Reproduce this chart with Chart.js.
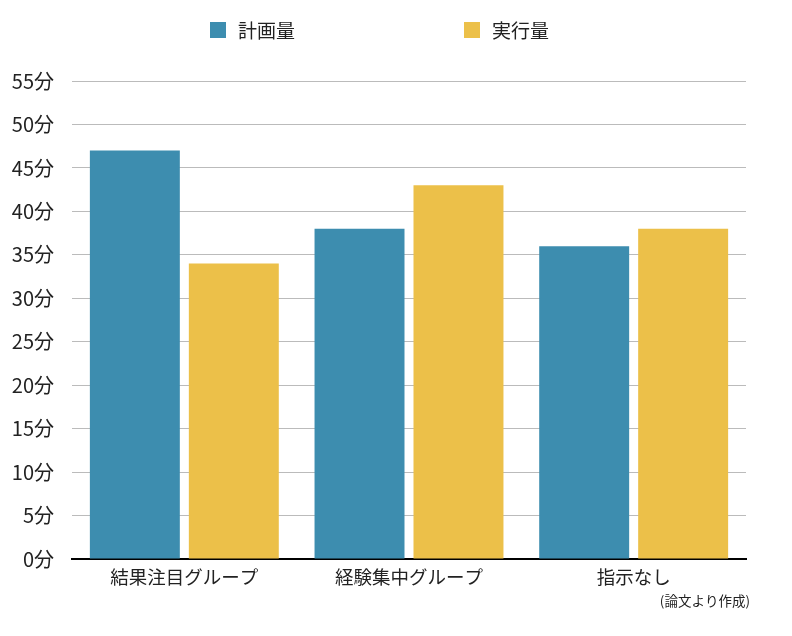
<!DOCTYPE html>
<html><head><meta charset="utf-8">
<script src="https://cdn.jsdelivr.net/npm/chart.js@4"></script>
<style>html,body{margin:0;padding:0;background:#fff}#w{width:792px;height:636px}</style>
</head><body><div id="w"><canvas id="c"></canvas></div>
<script>
const categories = ['結果注目グループ', '経験集中グループ', '指示なし'];
const planned = [47, 38, 36];
const actual = [34, 43, 38];
const seriesNames = ['計画量', '実行量'];
const yTicks = [0,5,10,15,20,25,30,35,40,45,50,55];
const note = '(論文より作成)';
const FONT = '"Noto Sans CJK JP", "Noto Sans", sans-serif';
const BLUE = '#3d8daf', YELLOW = '#ecc049';

const legendPlugin = {
  id: 'customLegend',
  afterDraw(chart) {
    const ctx = chart.ctx;
    ctx.save();
    const xs = [210, 464];
    chart.data.datasets.forEach((ds, i) => {
      ctx.fillStyle = ds.backgroundColor;
      ctx.fillRect(xs[i], 22, 16, 16);
      ctx.fillStyle = '#222';
      ctx.font = '19px ' + FONT;
      ctx.textBaseline = 'middle';
      ctx.textAlign = 'left';
      ctx.fillText(ds.label, xs[i] + 28, 31);
    });
    ctx.font = '13.5px ' + FONT;
    ctx.textAlign = 'right';
    ctx.fillText(note, 750, 601);
    ctx.restore();
  }
};

new Chart(document.getElementById('c'), {
  type: 'bar',
  data: {
    labels: categories,
    datasets: [
      { label: seriesNames[0], data: planned, backgroundColor: BLUE },
      { label: seriesNames[1], data: actual, backgroundColor: YELLOW }
    ]
  },
  options: {
    responsive: true,
    maintainAspectRatio: false,
    animation: false,
    devicePixelRatio: 1,
    layout: { padding: { top: 81, right: 46, left: 0, bottom: 0 } },
    datasets: { bar: { categoryPercentage: 0.881, barPercentage: 0.909 } },
    plugins: { legend: { display: false }, tooltip: { enabled: false } },
    scales: {
      x: {
        grid: { display: false, drawTicks: false },
        border: { display: true, color: '#000', width: 2 },
        ticks: { color: '#222', font: { family: FONT, size: 18.5 }, padding: 7 },
        afterFit(s) { s.height = 77; }
      },
      y: {
        min: 0, max: 55,
        afterBuildTicks(s) { s.ticks = yTicks.map(v => ({ value: v })); },
        grid: { color: '#bbbbbb', lineWidth: 1, drawTicks: false },
        border: { display: false },
        ticks: { color: '#222', font: { family: FONT, size: 20 }, padding: 18,
          callback: v => v + '分' },
        afterFit(s) { s.width = 72; }
      }
    }
  },
  plugins: [legendPlugin]
});
</script></body></html>
